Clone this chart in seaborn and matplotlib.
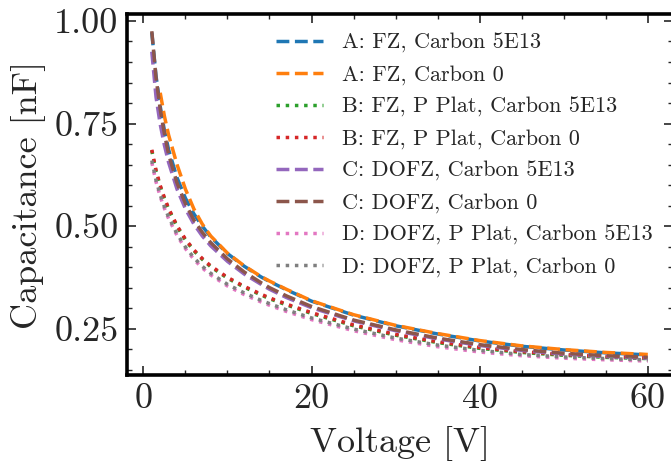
import numpy as np
import pandas as pd
import matplotlib
matplotlib.use("Agg")
import matplotlib.pyplot as plt
import seaborn as sns
from matplotlib.ticker import MultipleLocator

# ---------------- data ----------------
V_full = [1, 1.5, 2, 2.5, 3, 4, 5, 6, 7, 8, 10, 12, 14, 15, 17, 20, 25, 30, 35, 40, 45, 50, 55, 60]
V_from2 = [2, 2.5, 3, 4, 5, 6, 7, 8, 10, 12, 14, 15, 17, 20, 25, 30, 35, 40, 45, 50, 55, 60]

A_c5e13 = [0.972, 0.866, 0.792, 0.733, 0.686, 0.618, 0.568, 0.530, 0.500, 0.474, 0.433, 0.402,
           0.376, 0.365, 0.345, 0.317, 0.283, 0.257, 0.237, 0.220, 0.207, 0.198, 0.191, 0.186]
A_c0 = [0.825, 0.768, 0.722, 0.650, 0.590, 0.542, 0.505, 0.476, 0.434, 0.403, 0.377,
        0.366, 0.346, 0.318, 0.284, 0.258, 0.238, 0.221, 0.208, 0.199, 0.192, 0.187]
B_c5e13 = [0.684, 0.634, 0.597, 0.567, 0.541, 0.499, 0.466, 0.440, 0.419, 0.401, 0.373, 0.351,
           0.332, 0.323, 0.308, 0.287, 0.257, 0.234, 0.216, 0.202, 0.192, 0.185, 0.180, 0.177]
B_c0 = [0.686, 0.636, 0.599, 0.569, 0.543, 0.501, 0.468, 0.442, 0.421, 0.403, 0.375, 0.353,
        0.334, 0.325, 0.310, 0.289, 0.259, 0.236, 0.218, 0.204, 0.194, 0.187, 0.182, 0.179]
C_c5e13 = [0.925, 0.815, 0.748, 0.697, 0.655, 0.590, 0.542, 0.505, 0.476, 0.452, 0.414, 0.383,
           0.358, 0.346, 0.326, 0.301, 0.269, 0.245, 0.225, 0.209, 0.197, 0.188, 0.182, 0.178]
C_c0 = [0.975, 0.862, 0.785, 0.725, 0.675, 0.605, 0.555, 0.515, 0.485, 0.460, 0.420, 0.388,
        0.362, 0.350, 0.330, 0.304, 0.271, 0.247, 0.227, 0.211, 0.199, 0.190, 0.184, 0.180]
D_c5e13 = [0.655, 0.608, 0.572, 0.543, 0.518, 0.477, 0.445, 0.419, 0.398, 0.381, 0.354, 0.333,
           0.315, 0.307, 0.292, 0.272, 0.245, 0.223, 0.206, 0.193, 0.184, 0.178, 0.174, 0.171]
D_c0 = [0.660, 0.612, 0.576, 0.547, 0.522, 0.481, 0.449, 0.423, 0.402, 0.385, 0.358, 0.337,
        0.319, 0.311, 0.296, 0.276, 0.249, 0.227, 0.210, 0.197, 0.187, 0.181, 0.177, 0.174]

labels = ["A: FZ, Carbon 5E13", "A: FZ, Carbon 0",
          "B: FZ, P Plat, Carbon 5E13", "B: FZ, P Plat, Carbon 0",
          "C: DOFZ, Carbon 5E13", "C: DOFZ, Carbon 0",
          "D: DOFZ, P Plat, Carbon 5E13", "D: DOFZ, P Plat, Carbon 0"]
series = [(V_full, A_c5e13), (V_from2, A_c0), (V_full, B_c5e13), (V_full, B_c0),
          (V_full, C_c5e13), (V_full, C_c0), (V_full, D_c5e13), (V_full, D_c0)]
styles = ["--", "--", ":", ":", "--", "--", ":", ":"]

x_ticks = [0, 20, 40, 60]
y_ticks = [0.25, 0.50, 0.75, 1.00]

# ---------------- style ----------------
sns.set_style("ticks")
plt.rcParams["font.family"] = "serif"
plt.rcParams["font.serif"] = ["cmr10"]
plt.rcParams["mathtext.fontset"] = "cm"
plt.rcParams["axes.formatter.use_mathtext"] = True
plt.rcParams["axes.unicode_minus"] = False

colors = sns.color_palette("tab10", 8)

fig = plt.figure(figsize=(6.71, 4.63), dpi=100)
ax = fig.add_axes([127 / 671, 88 / 463, 545.6 / 671, 361 / 463])

for (vx, vy), lab, ls, col in zip(series, labels, styles, colors):
    df = pd.DataFrame({"Voltage": vx, "Capacitance": vy})
    sns.lineplot(data=df, x="Voltage", y="Capacitance", ax=ax, color=col,
                 linestyle=ls, linewidth=2.5, label=lab, errorbar=None)

ax.set_xlim(-1.95, 62.95)
ax.set_ylim(0.137, 1.017)
ax.set_xticks(x_ticks)
ax.set_yticks(y_ticks)
ax.set_xticklabels([str(t) for t in x_ticks])
ax.set_yticklabels([f"{t:.2f}" for t in y_ticks])
ax.xaxis.set_minor_locator(MultipleLocator(5))
ax.yaxis.set_minor_locator(MultipleLocator(0.05))
ax.tick_params(which="both", direction="in", top=True, right=True, labelsize=26, pad=6)
ax.tick_params(which="major", length=6.5, width=1.2)
ax.tick_params(which="minor", length=3.5, width=1.0)
for s in ax.spines.values():
    s.set_linewidth(2.6)
    s.set_color("black")

ax.set_xlabel("Voltage [V]", fontsize=26, labelpad=8)
ax.set_ylabel("Capacitance [nF]", fontsize=26, labelpad=6)

leg = ax.legend(loc="upper left", bbox_to_anchor=(276 / 671, 1 - 33 / 463),
                bbox_transform=fig.transFigure, frameon=False, fontsize=16,
                borderpad=0, borderaxespad=0, handlelength=2.1, handletextpad=0.85,
                labelspacing=0.54)

fig.savefig("out.png", dpi=100)
